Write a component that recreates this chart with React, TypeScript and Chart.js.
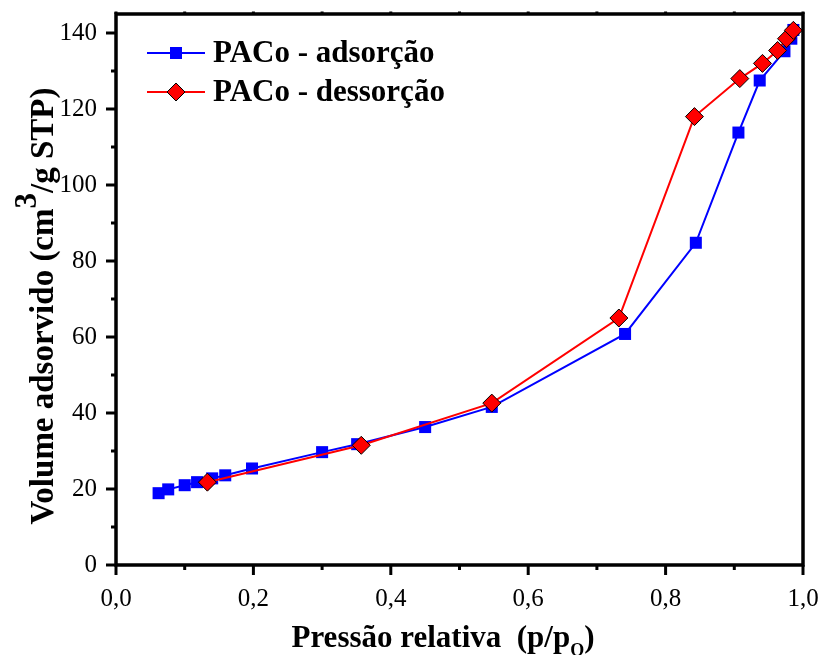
import { useEffect, useRef } from "react";
import { Chart, registerables } from "chart.js";

Chart.register(...registerables);

// N2 isotherm – adsorption branch
const adsP = [0.062, 0.076, 0.1, 0.118, 0.14, 0.159, 0.198, 0.3, 0.351, 0.45, 0.547, 0.741, 0.844, 0.906, 0.937, 0.973, 0.983, 0.986];
const adsV = [18.9, 19.9, 21.0, 21.8, 22.8, 23.6, 25.4, 29.7, 31.8, 36.3, 41.6, 60.8, 84.8, 113.8, 127.5, 135.2, 138.5, 140.8];

// N2 isotherm – desorption branch
const desP = [0.133, 0.357, 0.547, 0.732, 0.842, 0.908, 0.941, 0.963, 0.976, 0.986];
const desV = [21.8, 31.5, 42.6, 65.0, 118.0, 128.0, 132.0, 135.4, 138.5, 140.7];

const xMajor = [0, 0.2, 0.4, 0.6, 0.8, 1.0];
const xMajorLabels = ["0,0", "0,2", "0,4", "0,6", "0,8", "1,0"];
const xMinor = [0.1, 0.3, 0.5, 0.7, 0.9];
const yMajor = [0, 20, 40, 60, 80, 100, 120, 140];
const yMinor = [10, 30, 50, 70, 90, 110, 130];

const seriesLabels = ["PACo - adsorção", "PACo - dessorção"];
const xTitle = ["Pressão relativa  (p/p", "O", ")"];
const yTitle = ["Volume adsorvido (cm", "3", "/g STP)"];

const SERIF = '"Liberation Serif", "Times New Roman", serif';
const BLUE = "#0000ff";
const RED = "#ff0000";

const framePlugin = {
  id: "frame",
  afterDraw(chart: any) {
    const { ctx, chartArea: a } = chart;
    const xs = chart.scales.x;
    const ys = chart.scales.y;
    ctx.save();
    ctx.strokeStyle = "#000";
    ctx.lineCap = "butt";

    // ticks
    ctx.lineWidth = 3;
    const tick = (x1: number, y1: number, x2: number, y2: number) => {
      ctx.beginPath();
      ctx.moveTo(x1, y1);
      ctx.lineTo(x2, y2);
      ctx.stroke();
    };
    xMajor.forEach((v) => {
      const px = xs.getPixelForValue(v);
      tick(px, a.bottom, px, a.bottom + 10);
    });
    xMinor.forEach((v) => {
      const px = xs.getPixelForValue(v);
      tick(px, a.bottom, px, a.bottom + 5);
    });
    [...xMajor, ...xMinor].forEach((v) => {
      const px = xs.getPixelForValue(v);
      tick(px, a.top, px, a.top - 2.5);
    });
    yMajor.forEach((v) => {
      const py = ys.getPixelForValue(v);
      tick(a.left, py, a.left - 10, py);
    });
    yMinor.forEach((v) => {
      const py = ys.getPixelForValue(v);
      tick(a.left, py, a.left - 5, py);
    });

    // frame
    ctx.lineWidth = 3.5;
    ctx.strokeRect(a.left, a.top, a.right - a.left, a.bottom - a.top);

    // legend
    const rows = [
      { y: 53, color: BLUE, shape: "rect" },
      { y: 92, color: RED, shape: "diamond" },
    ];
    rows.forEach((r, i) => {
      ctx.strokeStyle = r.color;
      ctx.lineWidth = 2;
      tick(147, r.y, 205, r.y);
      const cx = 176;
      ctx.fillStyle = r.color;
      if (r.shape === "rect") {
        ctx.fillRect(cx - 6, r.y - 6, 12, 12);
      } else {
        ctx.beginPath();
        ctx.moveTo(cx - 9, r.y);
        ctx.lineTo(cx, r.y - 9);
        ctx.lineTo(cx + 9, r.y);
        ctx.lineTo(cx, r.y + 9);
        ctx.closePath();
        ctx.fill();
        ctx.strokeStyle = "#000";
        ctx.lineWidth = 1;
        ctx.stroke();
      }
      ctx.fillStyle = "#000";
      ctx.font = `bold 31px ${SERIF}`;
      ctx.textAlign = "left";
      ctx.textBaseline = "alphabetic";
      ctx.fillText(seriesLabels[i], 213, r.y + 9);
    });

    // x axis title with subscript
    ctx.fillStyle = "#000";
    ctx.textBaseline = "alphabetic";
    ctx.textAlign = "left";
    const fMain = `bold 31px ${SERIF}`;
    const fSub = `bold 18px ${SERIF}`;
    ctx.font = fMain;
    const w0 = ctx.measureText(xTitle[0]).width;
    const w2 = ctx.measureText(xTitle[2]).width;
    ctx.font = fSub;
    const w1 = ctx.measureText(xTitle[1]).width;
    let sx = 443 - (w0 + w1 + w2) / 2;
    const by = 647;
    ctx.font = fMain;
    ctx.fillText(xTitle[0], sx, by);
    sx += w0;
    ctx.font = fSub;
    ctx.fillText(xTitle[1], sx, by + 9);
    sx += w1;
    ctx.font = fMain;
    ctx.fillText(xTitle[2], sx, by);

    // y axis title with superscript
    ctx.save();
    ctx.translate(53, 306);
    ctx.rotate(-Math.PI / 2);
    const yMainF = `bold 33px ${SERIF}`;
    const ySupF = `bold 31px ${SERIF}`;
    ctx.font = yMainF;
    const v0 = ctx.measureText(yTitle[0]).width;
    const v2 = ctx.measureText(yTitle[2]).width;
    ctx.font = ySupF;
    const v1 = ctx.measureText(yTitle[1]).width;
    let tx = -(v0 + v1 + v2) / 2;
    ctx.font = yMainF;
    ctx.fillText(yTitle[0], tx, 0);
    tx += v0;
    ctx.font = ySupF;
    ctx.fillText(yTitle[1], tx, -17);
    tx += v1;
    ctx.font = yMainF;
    ctx.fillText(yTitle[2], tx, 0);
    ctx.restore();

    ctx.restore();
  },
};

export default function App() {
  const ref = useRef<HTMLCanvasElement | null>(null);

  useEffect(() => {
    if (!ref.current) return;
    const chart = new Chart(ref.current, {
      type: "line",
      data: {
        datasets: [
          {
            label: seriesLabels[0],
            data: adsP.map((p, i) => ({ x: p, y: adsV[i] })),
            borderColor: BLUE,
            backgroundColor: BLUE,
            borderWidth: 2,
            pointStyle: "rect",
            pointRadius: 8.5,
            pointBackgroundColor: BLUE,
            pointBorderColor: BLUE,
            pointBorderWidth: 0,
            tension: 0,
            order: 2,
          },
          {
            label: seriesLabels[1],
            data: desP.map((p, i) => ({ x: p, y: desV[i] })),
            borderColor: RED,
            backgroundColor: RED,
            borderWidth: 2,
            pointStyle: "rectRot",
            pointRadius: 9,
            pointBackgroundColor: RED,
            pointBorderColor: "#000",
            pointBorderWidth: 1,
            tension: 0,
            order: 1,
          },
        ],
      },
      options: {
        animation: false,
        responsive: false,
        devicePixelRatio: 1,
        layout: { padding: { top: 14, right: 20, left: 0, bottom: 0 } },
        plugins: {
          legend: { display: false },
          tooltip: { enabled: false },
          title: { display: false },
        },
        scales: {
          x: {
            type: "linear",
            min: 0,
            max: 1,
            afterBuildTicks: (s: any) => {
              s.ticks = xMajor.map((v) => ({ value: v }));
            },
            afterFit: (s: any) => {
              s.height = 90;
              s.paddingLeft = 0;
              s.paddingRight = 0;
              s.paddingTop = 0;
              s.paddingBottom = 0;
            },
            ticks: {
              font: { family: SERIF, size: 25 },
              color: "#000",
              padding: 9,
              maxRotation: 0,
              autoSkip: false,
              callback: (_v: any, i: number) => xMajorLabels[i],
            },
            grid: {
              drawOnChartArea: false,
              drawTicks: true,
              tickLength: 10,
              tickColor: "rgba(0,0,0,0)",
            },
            border: { display: false },
          },
          y: {
            type: "linear",
            min: 0,
            max: 145,
            afterBuildTicks: (s: any) => {
              s.ticks = yMajor.map((v) => ({ value: v }));
            },
            afterFit: (s: any) => {
              s.width = 116;
              s.paddingLeft = 0;
              s.paddingRight = 0;
              s.paddingTop = 0;
              s.paddingBottom = 0;
            },
            ticks: {
              font: { family: SERIF, size: 25 },
              color: "#000",
              padding: 9,
              autoSkip: false,
              callback: (v: any) => String(v),
            },
            grid: {
              drawOnChartArea: false,
              drawTicks: true,
              tickLength: 10,
              tickColor: "rgba(0,0,0,0)",
            },
            border: { display: false },
          },
        },
      },
      plugins: [framePlugin],
    });
    return () => chart.destroy();
  }, []);

  return (
    <div style={{ position: "absolute", left: 0, top: 0, width: 823, height: 655, background: "#fff" }}>
      <canvas ref={ref} width={823} height={655} />
    </div>
  );
}
